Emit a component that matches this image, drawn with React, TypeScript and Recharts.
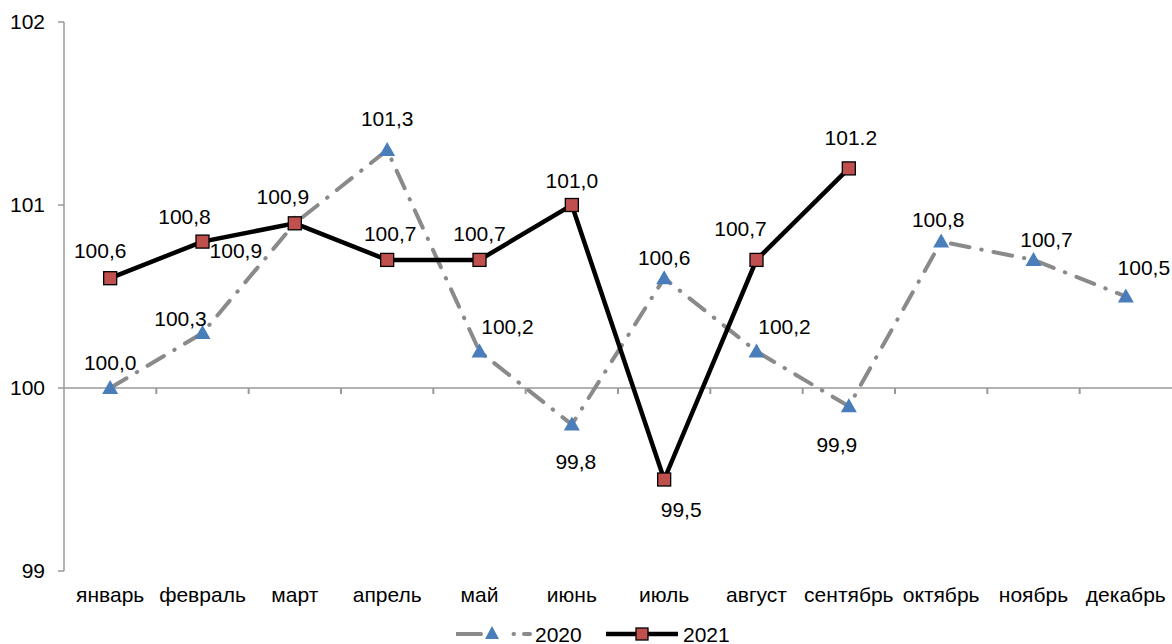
import React from "react";
import { LineChart, Line, XAxis, YAxis, ReferenceLine, ReferenceDot, LabelList, Legend } from "recharts";

const months = [
  "январь",
  "февраль",
  "март",
  "апрель",
  "май",
  "июнь",
  "июль",
  "август",
  "сентябрь",
  "октябрь",
  "ноябрь",
  "декабрь",
];
const values2020 = [100.0, 100.3, 100.9, 101.3, 100.2, 99.8, 100.6, 100.2, 99.9, 100.8, 100.7, 100.5];
const values2021 = [100.6, 100.8, 100.9, 100.7, 100.7, 101.0, 99.5, 100.7, 101.2];
const labels2020 = ["100,0", "100,3", "100,9", "101,3", "100,2", "99,8", "100,6", "100,2", "99,9", "100,8", "100,7", "100,5"];
const labels2021 = ["100,6", "100,8", "100,9", "100,7", "100,7", "101,0", "99,5", "100,7", "101.2"];
const yTicks = [99, 100, 101, 102];

// where each data label sits relative to its point (px)
const labelShift2020 = [
  [0, -26], [-22, -15], [-59, 27], [0, -32], [28, -25], [4, 37],
  [0, -21], [28, -25], [-12, 38], [-3, -22], [13, -20], [18, -29],
];
const labelShift2021 = [
  [-10, -28], [-18, -25], [-12, -27], [3, -26], [0, -26], [0, -25],
  [17, 30], [-16, -31], [2, -31],
];

const FONT = "'Liberation Sans', Arial, sans-serif";
const FS = 21;
const GRAY = "#8a8a8a";
const BLUE = "#4a7ebb";
const RED = "#c0504d";
const DASH = "19 12 0.5 12";

const data = months.map((m, i) => ({
  x: i + 0.5,
  month: m,
  y2020: values2020[i],
  y2021: i < values2021.length ? values2021[i] : null,
}));

const boundaries = months.slice(1).map((_, i) => i + 1);

const Triangle = (props: any) => {
  const { cx, cy } = props;
  if (cx == null || cy == null) return null;
  return <polygon points={`${cx},${cy - 8} ${cx + 8},${cy + 6} ${cx - 8},${cy + 6}`} fill={BLUE} />;
};

const Square = (props: any) => {
  const { cx, cy } = props;
  if (cx == null || cy == null) return null;
  return <rect x={cx - 6.5} y={cy - 6.5} width={13} height={13} fill={RED} stroke="#000" strokeWidth={1.3} />;
};

const TickMark = (props: any) => {
  const { cx, cy } = props;
  if (cx == null || cy == null) return null;
  return <line x1={cx} y1={cy} x2={cx} y2={cy + 6} stroke="#999" strokeWidth={2} />;
};

const makeLabel = (texts: string[], shifts: number[][]) => (props: any) => {
  const { x, y, index, value } = props;
  if (value == null || x == null || y == null) return null;
  const [dx, dy] = shifts[index] || [0, -25];
  return (
    <text x={x + dx} y={y + dy} textAnchor="middle" dominantBaseline="central" fontFamily={FONT} fontSize={FS} fill="#000">
      {texts[index]}
    </text>
  );
};

const renderLegend = () => (
  <div style={{ width: 1172, height: 33, display: "flex", justifyContent: "center" }}>
    <svg width={276} height={33} style={{ marginLeft: 16 }}>
      <line x1={0} y1={23} x2={74} y2={23} stroke={GRAY} strokeWidth={4} strokeDasharray="25 10 0.5 22 0.5 10" strokeLinecap="round" />
      <polygon points="36,15 43,28 29,28" fill={BLUE} />
      <text x={79} y={23} dominantBaseline="central" fontFamily={FONT} fontSize={FS} fill="#000">2020</text>
      <line x1={150} y1={23} x2={222} y2={23} stroke="#000" strokeWidth={4.5} />
      <rect x={180} y={17} width={12} height={12} fill={RED} stroke="#000" strokeWidth={1.3} />
      <text x={227} y={23} dominantBaseline="central" fontFamily={FONT} fontSize={FS} fill="#000">2021</text>
    </svg>
  </div>
);

export default function App() {
  return (
    <div style={{ position: "absolute", left: 0, top: 0, background: "#fff" }}>
      <LineChart width={1172} height={644} data={data} margin={{ top: 22, right: 0, left: 0, bottom: 0 }}>
        <XAxis
          dataKey="x"
          type="number"
          domain={[0, 12]}
          ticks={data.map((d) => d.x)}
          tickFormatter={(v: number) => months[Math.floor(v)]}
          axisLine={false}
          tickLine={false}
          tickMargin={10}
          height={40}
          interval={0}
          tick={{ fill: "#000", fontSize: FS, fontFamily: FONT }}
        />
        <YAxis
          domain={[99, 102]}
          ticks={yTicks}
          width={64}
          axisLine={{ stroke: "#999", strokeWidth: 1.5 }}
          tickLine={{ stroke: "#999", strokeWidth: 1.5 }}
          tickSize={6}
          tickMargin={13}
          tick={{ fill: "#000", fontSize: FS, fontFamily: FONT }}
        />
        <ReferenceLine y={100} stroke="#999" strokeWidth={1.5} />
        {boundaries.map((b) => (
          <ReferenceDot key={b} x={b} y={100} r={0} shape={<TickMark />} />
        ))}
        <Legend verticalAlign="bottom" content={renderLegend} />
        <Line
          dataKey="y2020"
          stroke={GRAY}
          strokeWidth={4}
          strokeDasharray={DASH}
          strokeLinecap="round"
          dot={<Triangle />}
          isAnimationActive={false}
        >
          <LabelList dataKey="y2020" content={makeLabel(labels2020, labelShift2020)} />
        </Line>
        <Line
          dataKey="y2021"
          stroke="#000"
          strokeWidth={4.5}
          dot={<Square />}
          isAnimationActive={false}
        >
          <LabelList dataKey="y2021" content={makeLabel(labels2021, labelShift2021)} />
        </Line>
      </LineChart>
    </div>
  );
}
